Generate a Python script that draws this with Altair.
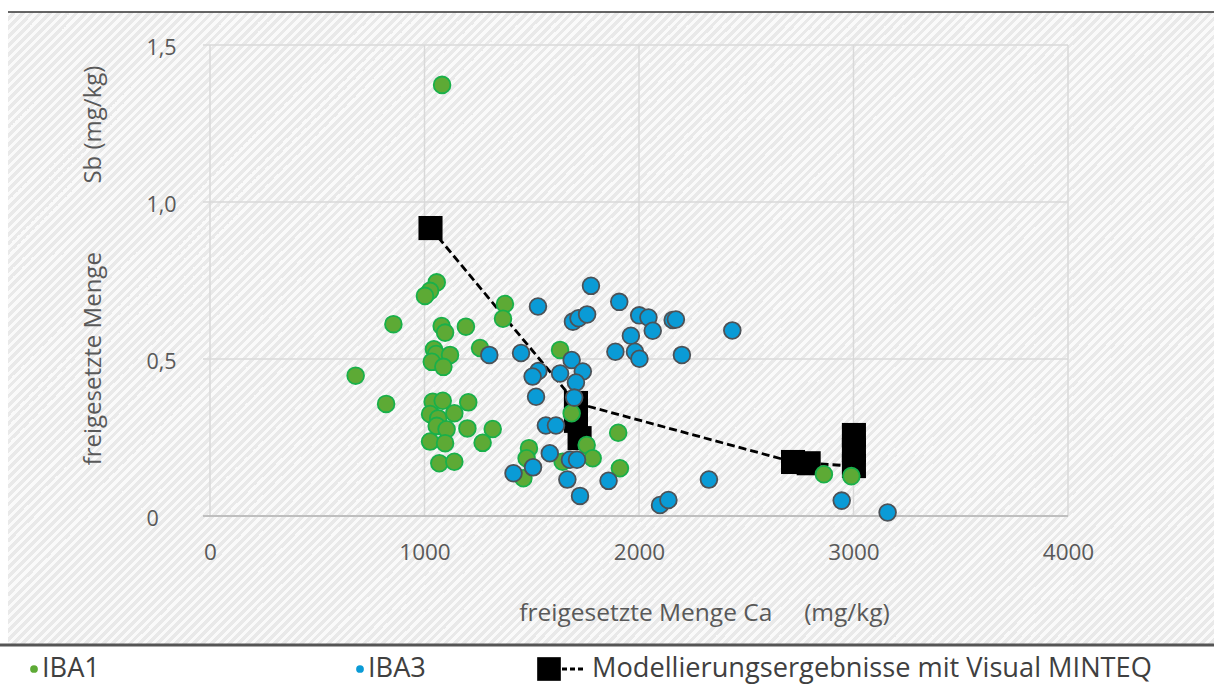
import math
import altair as alt
import pandas as pd

# Freigesetzte Mengen (mg/kg): Ca auf der x-Achse, Sb auf der y-Achse
ca_iba1 = [1082, 1057, 1026, 1002, 855, 1080, 1096, 1193, 1259, 1375, 1366, 1044, 1054, 1119, 1034,
           1088, 679, 821, 1038, 1085, 1204, 1026, 1064, 1139, 1057, 1103, 1200, 1318, 1026, 1096,
           1271, 1069, 1139, 1487, 1476, 1461, 1632, 1686, 1903, 1756, 1784, 1644, 1911, 2862, 2990]
sb_iba1 = [1.373, 0.744, 0.717, 0.701, 0.611, 0.605, 0.584, 0.603, 0.535, 0.675, 0.628, 0.531, 0.516, 0.513, 0.491,
           0.475, 0.447, 0.357, 0.364, 0.367, 0.362, 0.325, 0.311, 0.327, 0.287, 0.276, 0.279, 0.277, 0.237, 0.232,
           0.233, 0.168, 0.173, 0.216, 0.184, 0.120, 0.529, 0.327, 0.265, 0.226, 0.184, 0.173, 0.152, 0.133, 0.127]

ca_iba3 = [1776, 1529, 1908, 1692, 1718, 1758, 2001, 2044, 2064, 2157, 2172, 1962, 2435, 1302, 1450,
           1890, 1981, 2002, 2200, 1686, 1531, 1504, 1632, 1738, 1706, 1698, 1520, 1566, 1613, 1584,
           1678, 1711, 1506, 1415, 1666, 1858, 2326, 1725, 2098, 2137, 2945, 3159]
sb_iba3 = [0.733, 0.667, 0.682, 0.619, 0.630, 0.642, 0.639, 0.632, 0.590, 0.624, 0.626, 0.574, 0.591, 0.513, 0.519,
           0.523, 0.523, 0.501, 0.513, 0.497, 0.462, 0.444, 0.454, 0.460, 0.425, 0.377, 0.380, 0.288, 0.288, 0.200,
           0.179, 0.179, 0.155, 0.136, 0.116, 0.112, 0.116, 0.064, 0.035, 0.051, 0.049, 0.011]

# Modellierungsergebnisse (Visual MINTEQ); folge = Reihenfolge entlang der gestrichelten Linie
ca_modell = [1028, 1706, 2718, 2791, 3002, 3002, 3002, 1706, 1723]
sb_modell = [0.917, 0.360, 0.172, 0.168, 0.159, 0.210, 0.258, 0.303, 0.248]
folge_modell = [1, 2, 3, 4, 5, 6, 7, None, None]

x_ticks = [0, 1000, 2000, 3000, 4000]
y_ticks = [0.5, 1.0, 1.5]
y_labels = [0, 0.5, 1.0, 1.5]

legende = ["IBA1", "IBA3", "Modellierungsergebnisse mit Visual MINTEQ"]

FONT = "Open Sans"
GRUEN, GRUEN_RAND = "#5DAA35", "#19B04A"
BLAU, BLAU_RAND = "#0A9BD6", "#4D5257"
GRID = "#d9d9d9"
TXT = "#595959"

W_PLOT, H_PLOT = 858, 471

df1 = pd.DataFrame({"ca": ca_iba1, "sb": sb_iba1})
df3 = pd.DataFrame({"ca": ca_iba3, "sb": sb_iba3})
dfm = pd.DataFrame({"ca": ca_modell, "sb": sb_modell, "folge": folge_modell})

xs = alt.Scale(domain=[0, 4000], nice=False, zero=True)
ys = alt.Scale(domain=[0, 1.5], nice=False, zero=True)

one = alt.Data(values=[{}])

# Schraffierter Hintergrund als linearer Verlauf mit harten Stufen
HW, HH = 1206, 632
S = HW + HH
k = S / (HW * HW + HH * HH)
period = 9.0
hell, dunkel = "#fafafa", "#e9e9e9"
stops = []
n = int(math.ceil(S / period))
for i in range(n):
    a = min(i * period / S, 1.0)
    b = min((i + 0.5) * period / S, 1.0)
    c = min((i + 1) * period / S, 1.0)
    stops += [
        alt.GradientStop(color=hell, offset=a),
        alt.GradientStop(color=hell, offset=b),
        alt.GradientStop(color=dunkel, offset=b),
        alt.GradientStop(color=dunkel, offset=c),
    ]
hatch = alt.Chart(one).mark_rect(
    fill=alt.LinearGradient(gradient="linear", stops=stops, x1=0, y1=0, x2=HW * k, y2=HH * k)
).encode(x=alt.value(-202), x2=alt.value(1004), y=alt.value(-33), y2=alt.value(599))

top_line = alt.Chart(one).mark_rule(color="#333333", strokeWidth=1.5).encode(
    x=alt.value(-202), x2=alt.value(1004), y=alt.value(-33))
bottom_line = alt.Chart(one).mark_rule(color="#555555", strokeWidth=3).encode(
    x=alt.value(-210), x2=alt.value(1004), y=alt.value(600))

grid_h = alt.Chart(pd.DataFrame({"v": y_ticks})).mark_rule(color=GRID, strokeWidth=1.5).encode(
    y=alt.Y("v:Q", scale=ys), x=alt.value(-7), x2=alt.value(W_PLOT))
grid_v = alt.Chart(pd.DataFrame({"v": x_ticks})).mark_rule(color=GRID, strokeWidth=1.5).encode(
    x=alt.X("v:Q", scale=xs), y=alt.value(0), y2=alt.value(H_PLOT))
axis_x = alt.Chart(pd.DataFrame({"v": [0]})).mark_rule(color="#bfbfbf", strokeWidth=2.2).encode(
    y=alt.Y("v:Q", scale=ys), x=alt.value(-7), x2=alt.value(W_PLOT))

modell_linie = alt.Chart(dfm).transform_filter("isValid(datum.folge)").mark_line(
    color="black", strokeDash=[8, 4], strokeWidth=2.8
).encode(x=alt.X("ca:Q", scale=xs), y=alt.Y("sb:Q", scale=ys), order="folge:Q")

modell_pkt = alt.Chart(dfm).mark_square(color="black", size=580, opacity=1).encode(
    x=alt.X("ca:Q", scale=xs), y=alt.Y("sb:Q", scale=ys))

x_axis = alt.Axis(
    values=x_ticks, format="d", grid=False, domain=False, ticks=False, zindex=1, labelFlush=False,
    labelFont=FONT, labelFontSize=22.5, labelColor=TXT, labelPadding=25,
    title="freigesetzte Menge Ca" + "\u00a0" * 5 + "(mg/kg)",
    titleFont=FONT, titleFontSize=24.5, titleFontWeight="normal", titleColor=TXT,
    titleX=494, titleY=97, titleAlign="center", titleBaseline="middle",
)
y_axis = alt.Axis(
    values=y_labels, grid=False, domain=False, ticks=False, zindex=1, labelFlush=False,
    labelExpr="datum.value == 0 ? '0' : replace(format(datum.value, '.1f'), '.', ',')",
    labelFont=FONT, labelFontSize=21.5, labelColor=TXT, labelAlign="left", labelPadding=64,
    labelOffset=3, labelBaseline="middle",
    title="freigesetzte Menge" + "\u00a0" * 11 + "Sb (mg/kg)",
    titleFont=FONT, titleFontSize=24, titleFontWeight="normal", titleColor=TXT,
    titleX=-117, titleY=220, titleAlign="center", titleBaseline="middle", titleAngle=270,
)

iba1 = alt.Chart(df1).mark_circle(
    fill=GRUEN, stroke=GRUEN_RAND, strokeWidth=1.8, size=280, opacity=1
).encode(x=alt.X("ca:Q", scale=xs, axis=x_axis), y=alt.Y("sb:Q", scale=ys, axis=y_axis))

iba3 = alt.Chart(df3).mark_circle(
    fill=BLAU, stroke=BLAU_RAND, strokeWidth=1.8, size=280, opacity=1
).encode(x=alt.X("ca:Q", scale=xs), y=alt.Y("sb:Q", scale=ys))

# Legende unterhalb der Grafik
LY = 624
leg_txt = dict(font=FONT, fontSize=27.2, color="#404040", align="left", baseline="middle")
leg = [
    alt.Chart(one).mark_circle(color=GRUEN, size=60, opacity=1).encode(x=alt.value(-176), y=alt.value(LY)),
    alt.Chart(one).mark_text(text=legende[0], **leg_txt).encode(x=alt.value(-168), y=alt.value(LY)),
    alt.Chart(one).mark_circle(color=BLAU, size=60, opacity=1).encode(x=alt.value(150), y=alt.value(LY)),
    alt.Chart(one).mark_text(text=legende[1], **leg_txt).encode(x=alt.value(158), y=alt.value(LY)),
    alt.Chart(one).mark_square(color="black", size=560, opacity=1).encode(x=alt.value(339), y=alt.value(LY)),
    alt.Chart(one).mark_rule(color="black", strokeDash=[5, 3], strokeWidth=2.8).encode(
        x=alt.value(352), x2=alt.value(376), y=alt.value(LY)),
    alt.Chart(one).mark_text(text=legende[2], **leg_txt).encode(x=alt.value(382), y=alt.value(LY)),
]

chart = alt.layer(
    hatch, top_line, bottom_line, grid_h, grid_v, axis_x,
    modell_linie, modell_pkt, iba1, iba3, *leg
).properties(
    width=W_PLOT, height=H_PLOT,
    autosize=alt.AutoSizeParams(type="none"),
    padding={"left": 210, "top": 45, "right": 146, "bottom": 175},
    background="white",
).configure_view(stroke=None, fill=None)

chart.save("out.html", embed_options={"renderer": "svg", "actions": False})
